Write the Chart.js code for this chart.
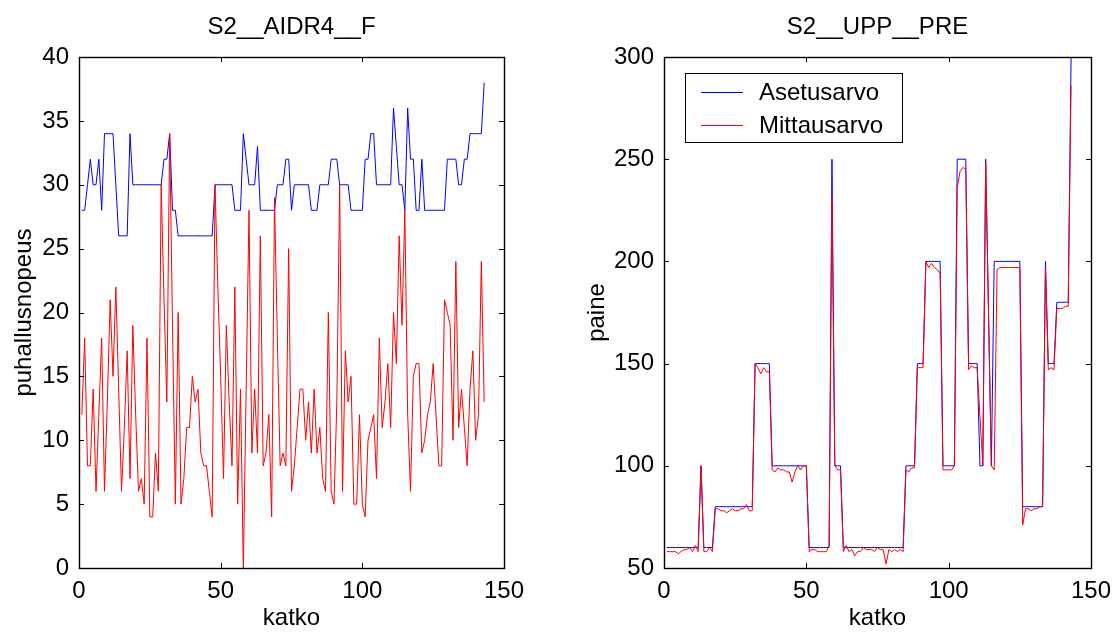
<!DOCTYPE html>
<html>
<head>
<meta charset="utf-8">
<title>S2 katko</title>
<script src="https://cdn.jsdelivr.net/npm/chart.js@4/dist/chart.umd.min.js"></script>
<style>
  body { margin: 0; background: #fff; }
  #wrap { position: relative; width: 1112px; height: 633px; }
  canvas { position: absolute; top: 0; }
  #left { left: 0; }
  #right { left: 556px; }
</style>
</head>
<body>
<div id="wrap">
  <canvas id="left" width="556" height="633"></canvas>
  <canvas id="right" width="556" height="633"></canvas>
</div>
<script>
// S2__AIDR4__F : puhallusnopeus (set / measured), katko = 1..143
const aidrAset = [
  28,28,30,32,30,30,32,28,34,34,
  34,34,30,26,26,26,26,34,30,30,
  30,30,30,30,30,30,30,30,30,32,
  32,34,28,28,26,26,26,26,26,26,
  26,26,26,26,26,26,26,30,30,30,
  30,30,30,30,28,28,28,34,32,30,
  30,30,33,28,28,28,28,28,28,30,
  30,30,32,32,28,30,30,30,30,30,
  30,28,28,28,30,30,30,30,32,32,
  32,30,30,30,30,28,28,28,28,28,
  32,32,34,34,30,30,30,30,30,30,
  36,33,30,30,28,36,32,32,28,28,
  32,28,28,28,28,28,28,28,28,32,
  32,32,32,30,30,32,32,34,34,34,
  34,34,38
];
const aidrMitt = [
  12,18,8,8,14,6,12,18,6,13,
  21,15,22,14,6,11,17,7,19,12,
  6,7,5,18,4,4,9,6,30,21,
  13,34,19,5,20,5,7,11,11,15,
  13,14,9,8,8,6,4,30,22,15,
  7,19,13,8,22,5,14,0,14,28,
  9,14,9,26,8,9,12,4,29,18,
  8,9,8,25,6,8,11,14,14,10,
  13,9,14,9,11,7,6,20,6,5,
  13,30,6,17,13,15,5,5,12,5,
  4,10,11,12,7,18,11,13,16,11,
  20,16,26,19,28,12,6,15,16,16,
  9,10,12,13,16,12,8,8,21,20,
  19,10,24,11,14,11,8,14,17,10,
  12,24,13
];

// S2__UPP__PRE : paine (set / measured)
const uppAset = [
  60,60,60,60,60,60,60,60,60,60,
  60,60,100,60,60,60,60,80,80,80,
  80,80,80,80,80,80,80,80,80,80,
  80,150,150,150,150,150,150,100,100,100,
  100,100,100,100,100,100,100,100,100,100,
  60,60,60,60,60,60,60,60,250,100,
  100,100,60,60,60,60,60,60,60,60,
  60,60,60,60,60,60,60,60,60,60,
  60,60,60,60,100,100,100,100,150,150,
  150,200,200,200,200,200,200,100,100,100,
  100,100,250,250,250,250,150,150,150,150,
  100,100,250,175,100,200,200,200,200,200,
  200,200,200,200,200,80,80,80,80,80,
  80,80,80,200,150,150,150,180,180,180,
  180,180,300
];
const uppMitt = [
  58,58,58,58,57,58,59,59,60,58,
  61,58,100,58,58,60,58,79,79,78,
  78,77,78,79,78,78,79,79,81,78,
  78,150,148,145,148,146,146,98,97,99,
  98,98,97,97,92,97,100,98,100,100,
  58,59,59,58,58,58,58,61,231,100,
  98,98,58,61,58,59,56,58,58,60,
  59,59,59,58,60,59,59,52,59,58,
  59,58,59,58,98,97,99,99,148,148,
  148,200,197,199,197,196,194,98,98,98,
  98,100,236,244,246,245,147,149,148,148,
  124,100,248,175,100,98,196,197,197,197,
  197,197,197,197,197,71,79,79,78,79,
  79,80,80,197,147,148,147,177,177,177,
  178,178,286
];

const seriesNames = ['Asetusarvo', 'Mittausarvo'];
const xTicks = [0, 50, 100, 150];
const leftYTicks = [0, 5, 10, 15, 20, 25, 30, 35, 40];
const rightYTicks = [50, 100, 150, 200, 250, 300];

const FONT = '"Liberation Sans", Arial, Helvetica, sans-serif';

// katko numbering starts at 1
function pts(arr) {
  return arr.map((v, i) => ({ x: i + 1, y: v }));
}

// box round the plot area with inward ticks on all four sides
const frameBox = {
  id: 'frameBox',
  afterDatasetsDraw(chart) {
    const { ctx, chartArea: a, scales } = chart;
    const len = 5;
    ctx.save();
    ctx.strokeStyle = '#000';
    ctx.lineWidth = 1;
    ctx.beginPath();
    scales.x.ticks.forEach(t => {
      const px = Math.round(scales.x.getPixelForValue(t.value)) + 0.5;
      ctx.moveTo(px, a.bottom); ctx.lineTo(px, a.bottom - len);
      ctx.moveTo(px, a.top); ctx.lineTo(px, a.top + len);
    });
    scales.y.ticks.forEach(t => {
      const py = Math.round(scales.y.getPixelForValue(t.value)) + 0.5;
      ctx.moveTo(a.left, py); ctx.lineTo(a.left + len, py);
      ctx.moveTo(a.right, py); ctx.lineTo(a.right - len, py);
    });
    ctx.stroke();
    ctx.lineWidth = 1.4;
    ctx.strokeRect(Math.round(a.left) + 0.5, Math.round(a.top) + 0.5,
      Math.round(a.width), Math.round(a.height));
    ctx.restore();
  }
};

// matlab style legend box in the top left corner
const legendBox = {
  id: 'legendBox',
  afterDraw(chart) {
    const { ctx, chartArea: a } = chart;
    const x0 = Math.round(a.left) + 21, y0 = Math.round(a.top) + 16;
    const w = 217, h = 69;
    ctx.save();
    ctx.fillStyle = '#fff';
    ctx.fillRect(x0, y0, w, h);
    ctx.strokeStyle = '#000';
    ctx.lineWidth = 1;
    ctx.strokeRect(x0 + 0.5, y0 + 0.5, w, h);
    chart.data.datasets.forEach((ds, i) => {
      const y = y0 + 19.5 + i * 33;
      ctx.strokeStyle = ds.borderColor;
      ctx.beginPath();
      ctx.moveTo(x0 + 16, y);
      ctx.lineTo(x0 + 58, y);
      ctx.stroke();
      ctx.fillStyle = '#000';
      ctx.font = '24px ' + FONT;
      ctx.textBaseline = 'middle';
      ctx.textAlign = 'left';
      ctx.fillText(ds.label, x0 + 74, y + 1);
    });
    ctx.restore();
  }
};

function makeChart(id, title, yLabel, aset, mitt, yMin, yMax, yTicks, yWidth, padRight, yTitlePad, plugins) {
  const ctx = document.getElementById(id).getContext('2d');
  return new Chart(ctx, {
    type: 'line',
    data: {
      datasets: [
        { label: seriesNames[0], data: pts(aset), borderColor: '#0000ff', borderWidth: 1, pointRadius: 0, tension: 0, fill: false, order: 1 },
        { label: seriesNames[1], data: pts(mitt), borderColor: '#ff0000', borderWidth: 1, pointRadius: 0, tension: 0, fill: false, order: 0 }
      ]
    },
    options: {
      responsive: false,
      animation: false,
      events: [],
      layout: { padding: { top: 0, left: 0, right: padRight, bottom: 0 } },
      plugins: {
        legend: { display: false },
        tooltip: { enabled: false },
        title: {
          display: true,
          fullSize: false,
          text: title,
          color: '#000',
          font: { family: FONT, size: 24, weight: 'normal' },
          padding: { top: 13, bottom: 15.2 }
        }
      },
      scales: {
        x: {
          type: 'linear',
          min: xTicks[0],
          max: xTicks[xTicks.length - 1],
          afterBuildTicks: s => { s.ticks = xTicks.map(v => ({ value: v })); },
          grid: { display: false, drawTicks: false },
          border: { display: false },
          ticks: { color: '#000', padding: 9, maxRotation: 0, autoSkip: false, font: { family: FONT, size: 24 } },
          title: { display: true, text: 'katko', color: '#000', padding: { top: 0, bottom: 0 }, font: { family: FONT, size: 24 } },
          afterFit: s => { s.height = 65; s.paddingLeft = 0; s.paddingRight = 0; }
        },
        y: {
          min: yMin,
          max: yMax,
          afterBuildTicks: s => { s.ticks = yTicks.map(v => ({ value: v })); },
          grid: { display: false, drawTicks: false },
          border: { display: false },
          ticks: { color: '#000', padding: 10, autoSkip: false, font: { family: FONT, size: 24 } },
          title: { display: true, text: yLabel, color: '#000', padding: { top: yTitlePad, bottom: 0 }, font: { family: FONT, size: 24 } },
          afterFit: s => { s.width = yWidth; s.paddingTop = 0; s.paddingBottom = 0; }
        }
      }
    },
    plugins: plugins
  });
}

makeChart('left', 'S2__AIDR4__F', 'puhallusnopeus', aidrAset, aidrMitt, 0, 40, leftYTicks, 79, 52, 10, [frameBox]);
makeChart('right', 'S2__UPP__PRE', 'paine', uppAset, uppMitt, 50, 300, rightYTicks, 108, 21, 27, [frameBox, legendBox]);
</script>
</body>
</html>
